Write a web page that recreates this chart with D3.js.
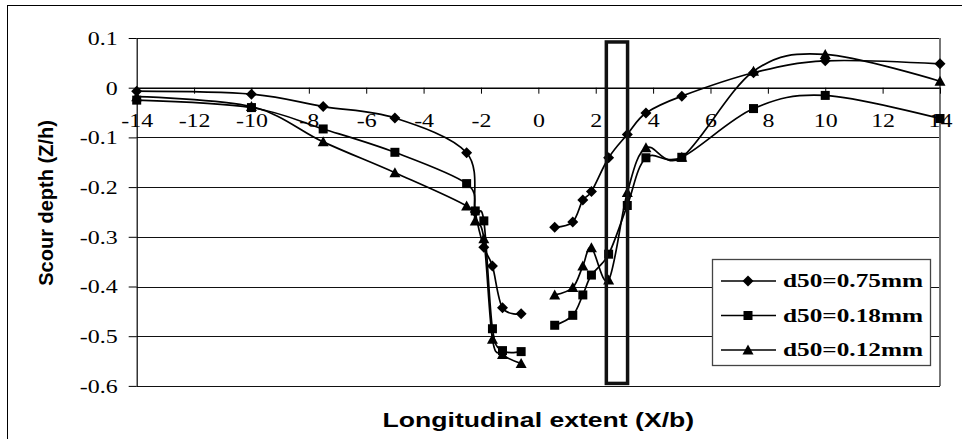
<!DOCTYPE html>
<html><head><meta charset="utf-8">
<script src="https://cdn.jsdelivr.net/npm/d3@7"></script>
<style>
html,body{margin:0;padding:0;background:#fff;}
svg{display:block;}
</style></head>
<body>
<svg id="chart" width="962" height="439"></svg>
<script>
// ---------- data ----------
const seriesNames = ["d50=0.75mm", "d50=0.18mm", "d50=0.12mm"];
const markerTypes = ["diamond", "square", "triangle"];
const xLeft  = [-14, -10, -7.5, -5, -2.5, -2.2, -1.9, -1.6, -1.25, -0.6];
const xRight = [0.57, 1.2, 1.55, 1.85, 2.45, 3.1, 3.75, 5, 7.5, 10, 14];

const d075Left  = [-0.007, -0.013, -0.038, -0.061, -0.131, -0.25, -0.321, -0.359, -0.443, -0.455];
const d075Right = [-0.281, -0.270, -0.226, -0.209, -0.141, -0.094, -0.051, -0.017, 0.030, 0.054, 0.048];
const d018Left  = [-0.025, -0.040, -0.083, -0.130, -0.193, -0.248, -0.268, -0.485, -0.529, -0.531];
const d018Right = [-0.478, -0.458, -0.417, -0.377, -0.335, -0.237, -0.141, -0.140, -0.042, -0.0155, -0.062];
const d012Left  = [-0.018, -0.038, -0.109, -0.171, -0.238, -0.268, -0.304, -0.506, -0.537, -0.555];
const d012Right = [-0.417, -0.402, -0.359, -0.322, -0.387, -0.211, -0.121, -0.140, 0.033, 0.067, 0.013];

const xTicks = [-14, -12, -10, -8, -6, -4, -2, 0, 2, 4, 6, 8, 10, 12, 14];
const yTicks = [0.1, 0, -0.1, -0.2, -0.3, -0.4, -0.5, -0.6];
const boxX = [2.37, 3.11];
const boxY = [0.092, -0.595];

const xTitle = "Longitudinal extent (X/b)";
const yTitle = "Scour depth (Z/h)";

// ---------- layout ----------
const svg = d3.select("#chart");
const L = 136.7, R = 940, T = 38, B = 385.9;
const SX = 1.33; // horizontal text stretch seen in the reference

const x = d3.scaleLinear().domain([-14, 14]).range([L, R]);
const y = d3.scaleLinear().domain([0.1, -0.6]).range([T, B]);

// outer frame
svg.append("rect").attr("x", 7.5).attr("y", 5.5).attr("width", 1000).attr("height", 1000)
  .attr("fill", "none").attr("stroke", "#000").attr("stroke-width", 1);

// gridlines
svg.append("g").selectAll("line").data(yTicks).join("line")
  .attr("x1", L).attr("x2", R)
  .attr("y1", d => Math.round(y(d)) + 0.5).attr("y2", d => Math.round(y(d)) + 0.5)
  .attr("stroke", "#111").attr("stroke-width", 1);

// plot frame
svg.append("line").attr("x1", R).attr("x2", R).attr("y1", T).attr("y2", B)
  .attr("stroke", "#777").attr("stroke-width", 2);

const fmt = v => (v === 0 ? "0" : String(+v.toFixed(1)).replace("\u2212", "-"));

// y axis
const yAxis = svg.append("g").attr("transform", `translate(${L},0)`)
  .call(d3.axisLeft(y).tickValues(yTicks).tickSize(8).tickSizeOuter(0).tickFormat(fmt));
yAxis.select(".domain").attr("stroke", "#000").attr("stroke-width", 1.2);
yAxis.selectAll(".tick line").attr("stroke", "#000");
yAxis.selectAll(".tick text")
  .attr("x", 0).attr("dy", "0.35em")
  .attr("transform", `translate(-19,0) scale(${SX},1)`)
  .attr("font-family", "'Liberation Serif', 'Times New Roman', serif")
  .attr("font-size", 18).attr("fill", "#000");

// x axis at y = 0
const xAxis = svg.append("g").attr("transform", `translate(0,${y(0)})`)
  .call(d3.axisBottom(x).tickValues(xTicks).tickSize(6).tickSizeOuter(0).tickFormat(fmt));
xAxis.select(".domain").attr("stroke", "#000").attr("stroke-width", 1.2);
xAxis.selectAll(".tick line").attr("stroke", "#000");
xAxis.selectAll(".tick text")
  .attr("y", 0).attr("dy", "0.35em")
  .attr("transform", `translate(0,33) scale(${SX},1)`)
  .attr("font-family", "'Liberation Serif', 'Times New Roman', serif")
  .attr("font-size", 18).attr("fill", "#000");

// series
const allSeries = [
  [d075Left, d075Right],
  [d018Left, d018Right],
  [d012Left, d012Right]
];
const line = d3.line().x(d => x(d[0])).y(d => y(d[1])).curve(d3.curveCatmullRom.alpha(0));

function marker(g, type, cx, cy) {
  if (type === "diamond") {
    g.append("path").attr("d", `M${cx},${cy-5.5}L${cx+5.5},${cy}L${cx},${cy+5.5}L${cx-5.5},${cy}Z`).attr("fill", "#000");
  } else if (type === "square") {
    g.append("rect").attr("x", cx - 4.5).attr("y", cy - 4.5).attr("width", 9).attr("height", 9).attr("fill", "#000");
  } else {
    g.append("path").attr("d", `M${cx},${cy-5.5}L${cx+5.5},${cy+4.5}L${cx-5.5},${cy+4.5}Z`).attr("fill", "#000");
  }
}

const gSeries = svg.append("g");
allSeries.forEach((parts, si) => {
  const segs = [xLeft.map((xv, i) => [xv, parts[0][i]]), xRight.map((xv, i) => [xv, parts[1][i]])];
  segs.forEach(seg => {
    gSeries.append("path").attr("d", line(seg)).attr("fill", "none")
      .attr("stroke", "#000").attr("stroke-width", 1.7);
  });
});
allSeries.forEach((parts, si) => {
  const g = gSeries.append("g");
  const segs = [xLeft.map((xv, i) => [xv, parts[0][i]]), xRight.map((xv, i) => [xv, parts[1][i]])];
  segs.forEach(seg => seg.forEach(p => marker(g, markerTypes[si], x(p[0]), y(p[1]))));
});

// highlight box
svg.append("rect")
  .attr("x", x(boxX[0])).attr("y", y(boxY[0]))
  .attr("width", x(boxX[1]) - x(boxX[0])).attr("height", y(boxY[1]) - y(boxY[0]))
  .attr("fill", "none").attr("stroke", "#111").attr("stroke-width", 3.5);

// legend
const lg = svg.append("g");
lg.append("rect").attr("x", 712.5).attr("y", 259.5).attr("width", 218).attr("height", 106)
  .attr("fill", "#fff").attr("stroke", "#444").attr("stroke-width", 1.3);
seriesNames.forEach((name, i) => {
  const cy = 281 + i * 34.5;
  lg.append("line").attr("x1", 721).attr("x2", 776).attr("y1", cy).attr("y2", cy)
    .attr("stroke", "#000").attr("stroke-width", 1.7);
  marker(lg, markerTypes[i], 748, cy);
  lg.append("text").attr("transform", `translate(783,${cy}) scale(${SX},1)`)
    .attr("dy", "0.33em")
    .attr("font-family", "'Liberation Serif', 'Times New Roman', serif")
    .attr("font-weight", "bold").attr("font-size", 19).attr("fill", "#000")
    .text(name);
});

// axis titles
svg.append("text").attr("transform", `translate(${(L + R) / 2},420) scale(${SX},1)`)
  .attr("text-anchor", "middle").attr("dy", "0.35em")
  .attr("font-family", "'Liberation Sans', Arial, sans-serif")
  .attr("font-weight", "bold").attr("font-size", 20).attr("fill", "#000")
  .text(xTitle);
svg.append("text").attr("transform", `translate(46,${(T + B) / 2 - 9}) rotate(-90)`)
  .attr("text-anchor", "middle").attr("dy", "0.35em")
  .attr("font-family", "'Liberation Sans', Arial, sans-serif")
  .attr("font-weight", "bold").attr("font-size", 20).attr("fill", "#000")
  .text(yTitle);
</script>
</body></html>
